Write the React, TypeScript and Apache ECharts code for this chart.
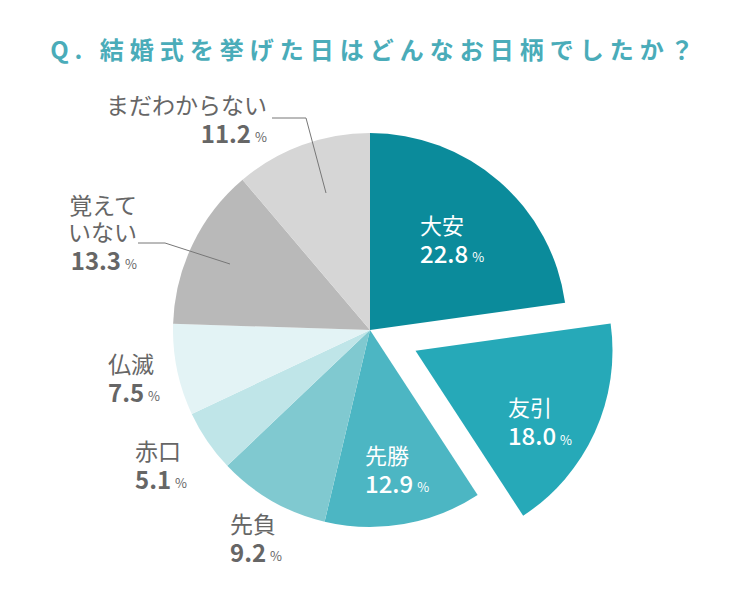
import React, { useEffect, useRef } from 'react';
import * as echarts from 'echarts';

const titleText = 'Q. 結婚式を挙げた日はどんなお日柄でしたか？';
const categories = ['大安', '友引', '先勝', '先負', '赤口', '仏滅', '覚えていない', 'まだわからない'];
const labelNames = ['大安', '友引', '先勝', '先負', '赤口', '仏滅', '覚えて\nいない', 'まだわからない'];
const values = [22.8, 18.0, 12.9, 9.2, 5.1, 7.5, 13.3, 11.2];
const sliceColors = ['#0b8b9b', '#26a9b8', '#4cb6c3', '#80c9d0', '#bfe5e8', '#e3f3f5', '#b9b9b9', '#d6d6d6'];
const insideLabel = [true, true, true, false, false, false, false, false];
const explodedIndex = 1;

// label anchor positions (layout only): [x, yTop, align]
const labelAnchors: [number, number, string][] = [
  [420, 210, 'left'],
  [503, 374, 'left'],
  [365, 440, 'left'],
  [230, 509, 'left'],
  [135, 436, 'left'],
  [108, 349, 'left'],
  [137, 190, 'right'],
  [267, 90, 'right'],
];

const FONT = '"Noto Sans CJK JP", "Noto Sans", sans-serif';

function richFor(inside: boolean, align: string) {
  const c = inside ? '#ffffff' : '#666666';
  return {
    name: { fontFamily: FONT, fontSize: inside ? 22 : 23, color: c, lineHeight: 27, align },
    val: { fontFamily: FONT, fontSize: 24, color: c, fontWeight: inside ? 500 : 'bold', lineHeight: 30, align },
    pct: { fontFamily: FONT, fontSize: 13, color: c, verticalAlign: 'bottom', padding: [0, 0, 4, 4], align },
  };
}

export default function App() {
  const ref = useRef<HTMLDivElement>(null);
  useEffect(() => {
    const el = ref.current!;
    const chart = echarts.init(el, undefined, { renderer: 'svg' });
    const data = categories.map((name, i) => ({
      name,
      value: values[i],
      selected: i === explodedIndex,
      itemStyle: { color: sliceColors[i] },
      label: {
        rich: richFor(insideLabel[i], labelAnchors[i][2]),
      },
    }));
    chart.setOption({
      animation: false,
      title: {
        text: titleText,
        left: 'center',
        top: 31,
        textStyle: { fontFamily: FONT, fontSize: 24, fontWeight: 'bold', color: '#4aacb9' },
      },
      graphic: [
        {
          type: 'polyline',
          shape: { points: [[272, 118], [306, 118], [326, 193]] },
          style: { stroke: '#777777', lineWidth: 1, fill: 'none' },
          z: 10,
        },
        {
          type: 'polyline',
          shape: { points: [[138, 243], [165, 243], [230, 264]] },
          style: { stroke: '#777777', lineWidth: 1, fill: 'none' },
          z: 10,
        },
      ],
      series: [
        {
          type: 'pie',
          center: [370, 330],
          radius: [0, 197],
          startAngle: 90,
          clockwise: true,
          selectedMode: 'single',
          selectedOffset: 50,
          avoidLabelOverlap: false,
          emphasis: { disabled: true },
          select: { itemStyle: {} },
          label: {
            show: true,
            position: 'inside',
            formatter: (p: any) =>
              `{name|${labelNames[p.dataIndex]}}\n{val|${values[p.dataIndex].toFixed(1)}}{pct|%}`,
          },
          labelLine: { show: false },
          labelLayout: (p: any) => {
            const a = labelAnchors[p.dataIndex];
            return { x: a[0], y: a[1], align: a[2], verticalAlign: 'top' };
          },
          data,
        },
      ],
    });
    const applySpacing = () => {
      el.querySelectorAll('text').forEach((t) => {
        if (t.textContent === titleText) t.setAttribute('letter-spacing', '6');
      });
    };
    applySpacing();
    chart.on('finished', applySpacing);
    return () => chart.dispose();
  }, []);
  return (
    <div
      ref={ref}
      style={{ position: 'fixed', left: 0, top: 0, width: 750, height: 600, background: '#ffffff' }}
    />
  );
}
